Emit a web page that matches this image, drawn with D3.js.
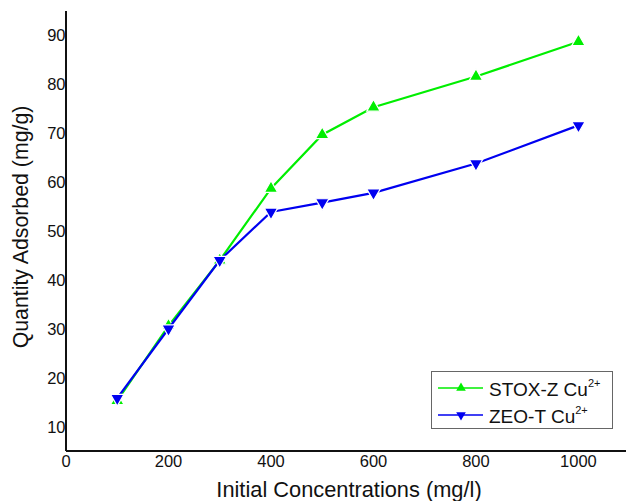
<!DOCTYPE html>
<html lang="en">
    <head>
        <meta charset="utf-8">
        <title>Cu adsorption</title>
        <script src="https://d3js.org/d3.v7.min.js"></script>
        <style>
            body { margin: 0; background: #fff; }
            text { font-family: "Liberation Sans", Arial, sans-serif; fill: #111; }
        </style>
    </head>
    <body>
        <script type="text/javascript">
            var width = 626;
            var height = 501;

            // data
            var concentrations = [100, 200, 300, 400, 500, 600, 800, 1000];
            var stoxValues = [15.3, 30.6, 44.0, 58.7, 69.7, 75.3, 81.6, 88.7];
            var zeoValues = [15.8, 30.0, 44.0, 53.9, 55.8, 57.8, 63.8, 71.6];
            var xTicks = [0, 200, 400, 600, 800, 1000];
            var yTicks = [10, 20, 30, 40, 50, 60, 70, 80, 90];
            var seriesNames = ["STOX-Z Cu", "ZEO-T Cu"];

            var series = [
                {name: seriesNames[0], values: stoxValues, color: "#00ee00", rot: 0},
                {name: seriesNames[1], values: zeoValues, color: "#0000f0", rot: 180}
            ];

            var svg = d3.select("body")
                .append("svg")
                .attr("width", width)
                .attr("height", height);

            var x = d3.scaleLinear().domain([0, 1100]).range([66, 629.7]);
            var y = d3.scaleLinear().domain([5, 95]).range([451, 11]);

            // axes (plain lines, no tick marks)
            svg.append("line")
                .attr("x1", x(0)).attr("x2", width)
                .attr("y1", y(5)).attr("y2", y(5))
                .attr("stroke", "#111").attr("stroke-width", 2);
            svg.append("line")
                .attr("x1", x(0)).attr("x2", x(0))
                .attr("y1", y(95)).attr("y2", y(5))
                .attr("stroke", "#111").attr("stroke-width", 2);

            svg.selectAll("text.xtick")
                .data(xTicks)
                .enter()
                .append("text")
                .attr("class", "xtick")
                .attr("x", function (d) { return x(d); })
                .attr("y", y(5) + 16)
                .attr("text-anchor", "middle")
                .attr("font-size", 16.5)
                .text(function (d) { return d; });

            svg.selectAll("text.ytick")
                .data(yTicks)
                .enter()
                .append("text")
                .attr("class", "ytick")
                .attr("x", x(0) - 0.5)
                .attr("y", function (d) { return y(d) + 6; })
                .attr("text-anchor", "end")
                .attr("font-size", 16.5)
                .text(function (d) { return d; });

            svg.append("text")
                .attr("x", 349)
                .attr("y", 497)
                .attr("text-anchor", "middle")
                .attr("font-size", 21.8)
                .text("Initial Concentrations (mg/l)");

            svg.append("text")
                .attr("transform", "translate(28,227) rotate(-90)")
                .attr("text-anchor", "middle")
                .attr("font-size", 21.3)
                .text("Quantity Adsorbed (mg/g)");

            var line = d3.line()
                .x(function (d, i) { return x(concentrations[i]); })
                .y(function (d) { return y(d); });

            var tri = d3.symbol().type(d3.symbolTriangle).size(78);

            series.forEach(function (s) {
                var g = svg.append("g");
                g.append("path")
                    .attr("d", line(s.values))
                    .attr("fill", "none")
                    .attr("stroke", s.color)
                    .attr("stroke-width", 2.2);
                g.selectAll("path.mark")
                    .data(s.values)
                    .enter()
                    .append("path")
                    .attr("class", "mark")
                    .attr("d", tri)
                    .attr("transform", function (d, i) {
                        return "translate(" + x(concentrations[i]) + "," + y(d) + ") rotate(" + s.rot + ")";
                    })
                    .attr("fill", s.color)
                    .attr("stroke", "#fff")
                    .attr("stroke-width", 1.2);
            });

            // legend
            var legend = svg.append("g");
            legend.append("rect")
                .attr("x", 431.5).attr("y", 371.5)
                .attr("width", 181).attr("height", 57)
                .attr("fill", "#fff")
                .attr("stroke", "#666")
                .attr("stroke-width", 1);

            var tri2 = d3.symbol().type(d3.symbolTriangle).size(40);
            var rowY = [388, 415];
            series.forEach(function (s, i) {
                legend.append("line")
                    .attr("x1", 438).attr("x2", 483)
                    .attr("y1", rowY[i]).attr("y2", rowY[i])
                    .attr("stroke", s.color).attr("stroke-width", 1.6);
                legend.append("path")
                    .attr("d", tri2)
                    .attr("transform", "translate(461," + rowY[i] + ") rotate(" + s.rot + ")")
                    .attr("fill", s.color);
                var t = legend.append("text")
                    .attr("x", 489)
                    .attr("y", rowY[i] + 8)
                    .attr("font-size", 19);
                t.append("tspan").text(s.name);
                t.append("tspan")
                    .attr("font-size", 11)
                    .attr("dy", -9)
                    .text("2+");
            });
        </script>
    </body>
</html>
